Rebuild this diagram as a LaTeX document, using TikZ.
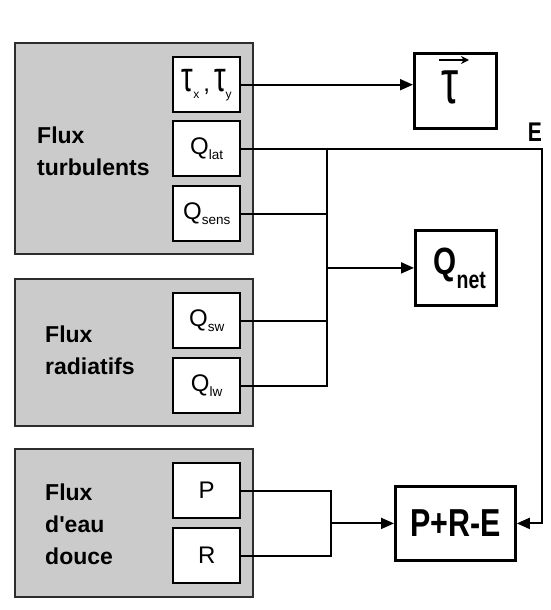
\documentclass[tikz,border=0pt]{standalone}
\usepackage{fontspec}
\usepackage{graphicx}
\setmainfont{Liberation Sans}
\newfontfamily\arial{Liberation Sans}
\newfontfamily\grk{Liberation Sans}
\usetikzlibrary{arrows.meta}
\definecolor{graybox}{RGB}{203,203,203}
\definecolor{grayline}{RGB}{45,45,45}
\newcommand\fs[1]{\fontsize{#1}{#1}\selectfont}
\newcommand\sq[1]{\scalebox{0.78}[1]{#1}}
\newcommand\qs[1]{Q\raisebox{-5pt}{\fs{13.5}#1}}
\newcommand\mytau{{\grk\scalebox{0.7}[1]{\fs{42}τ}}}
\begin{document}
\begin{tikzpicture}[x=1pt,y=-1pt,
  group/.style={draw=grayline, line width=1.8pt, fill=graybox, minimum width=238pt, inner sep=0pt, anchor=north west},
  cell/.style={draw=black, line width=2.4pt, fill=white, minimum width=67pt, minimum height=55pt, inner sep=0pt, anchor=north west, font=\arial\fs{24}},
  result/.style={draw=black, line width=2.8pt, fill=white, inner sep=0pt, anchor=north west, font=\arial\bfseries},
  lbl/.style={align=left, anchor=west, inner sep=0pt, font=\arial\fontsize{23}{32}\selectfont\bfseries},
  wire/.style={line width=1.9pt},
  arr/.style={wire, -{Triangle[length=13pt,width=11pt]}}
]
\useasboundingbox (0,0) rectangle (550,610);
\fill[white] (0,0) rectangle (550,610);

% groups
\node[group, minimum height=211pt] (g1) at (14,42) {};
\node[group, minimum height=147pt] (g2) at (14,278) {};
\node[group, minimum height=148pt] (g3) at (14,448) {};
\node[lbl] (t1) at (37,151) {Flux\\turbulents};
\node[lbl] (t2) at (45,350) {Flux\\radiatifs};
\node[lbl] (t3) at (45,524) {Flux\\d'eau\\douce};

% cells
\node[cell] (tau) at (172,56) {\mytau\raisebox{-7pt}{\fs{12}x}\,,\,\mytau\raisebox{-7pt}{\fs{12}y}};
\node[cell] (qlat) at (172,120) {\qs{lat}};
\node[cell] (qsens) at (172,185) {\qs{sens}};
\node[cell] (qsw) at (172,292) {\qs{sw}};
\node[cell] (qlw) at (172,357) {\qs{lw}};
\node[cell] (p) at (172,462) {P};
\node[cell] (r) at (172,527) {R};

% results
\node[result, minimum width=82pt, minimum height=75pt] (tauvec) at (413,52) {};
\node[inner sep=0pt] (tauglyph) at (450,87) {\grk\scalebox{0.7}[1]{\fs{62}τ}};
\coordinate (va) at (439,60);
\coordinate (vb) at (469,60);
\draw[line width=1.8pt, -{Stealth[length=8pt,width=8pt]}] (va) -- (vb);
\node[result, minimum width=81pt, minimum height=75pt] (qnet) at (414,229) {\sq{\fs{38}\hspace*{10pt}Q\raisebox{-14pt}{\fs{25}net}}};
\node[result, minimum width=120pt, minimum height=74pt] (pre) at (394,485) {\sq{\fs{39}P+R-E}};
\node[inner sep=0pt, font=\arial\bfseries] (elbl) at (535,132) {\sq{\fs{27}E}};

% connectors
\coordinate (ex) at (542,0);
\coordinate (b1) at (327,0);
\coordinate (b2) at (331,0);
\draw[arr] (tau.east) -- (tau.east -| tauvec.west);
\draw[arr] (qlat.east) -- (qlat.east -| ex) |- (pre.east);
\draw[wire] (qsens.east) -- (qsens.east -| b1);
\draw[wire] (qsw.east) -- (qsw.east -| b1);
\draw[wire] (qlw.east) -| (b1 |- qlat.east);
\draw[arr] (b1 |- qnet.west) -- (qnet.west);
\draw[wire] (p.east) -| (b2 |- r.east) -- (r.east);
\draw[arr] (b2 |- pre.west) -- (pre.west);
\end{tikzpicture}
\end{document}
